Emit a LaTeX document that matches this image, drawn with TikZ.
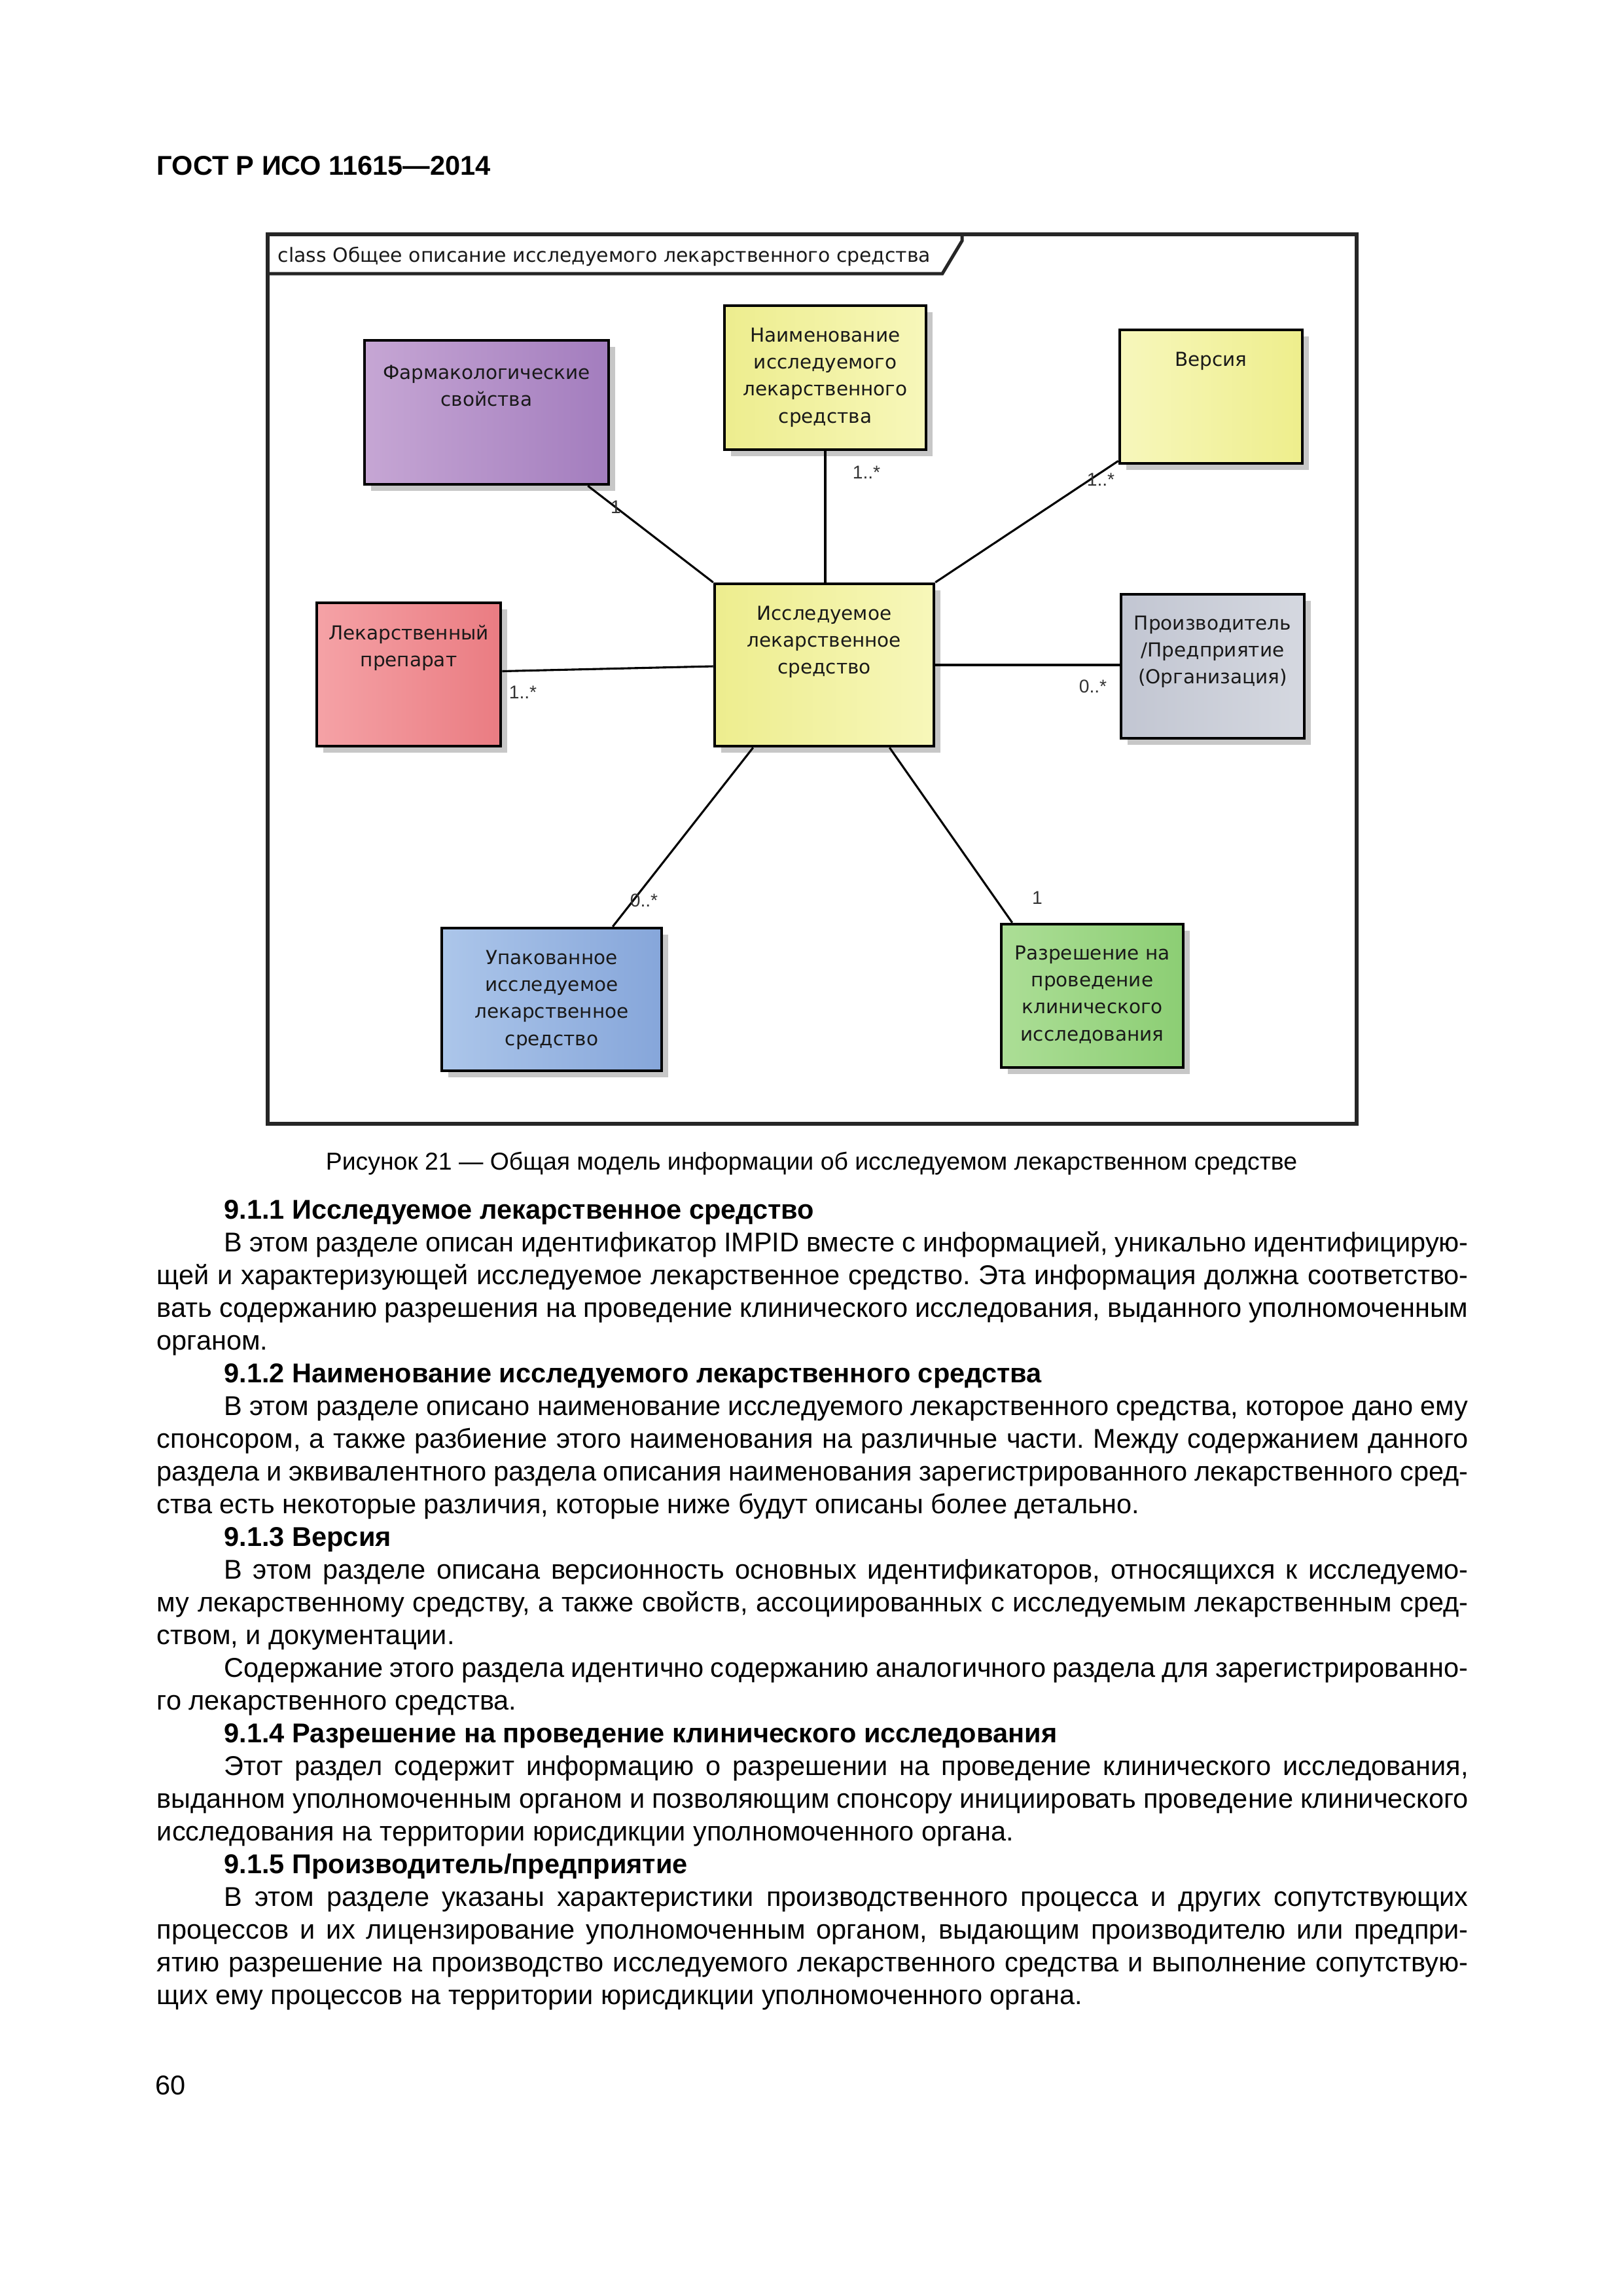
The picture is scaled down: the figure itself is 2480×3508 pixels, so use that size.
\documentclass[tikz,border=0pt]{standalone}
\usepackage{fontspec}
\setmainfont{Liberation Sans}
\newfontfamily\boxfont{DejaVu Sans}
\usetikzlibrary{shadows,fit}
\newdimen\pxu \pxu=0.24093pt
\definecolor{pharmL}{RGB}{198,166,212}
\definecolor{pharmR}{RGB}{163,125,190}
\definecolor{yelL}{RGB}{237,237,142}
\definecolor{yelR}{RGB}{247,247,186}
\definecolor{versL}{RGB}{247,247,188}
\definecolor{versR}{RGB}{238,238,140}
\definecolor{redL}{RGB}{245,162,166}
\definecolor{redR}{RGB}{234,124,130}
\definecolor{greyL}{RGB}{194,198,210}
\definecolor{greyR}{RGB}{213,216,224}
\definecolor{blueL}{RGB}{172,198,234}
\definecolor{blueR}{RGB}{134,166,218}
\definecolor{greenL}{RGB}{172,222,150}
\definecolor{greenR}{RGB}{140,206,116}
\tikzset{
  umlbox/.style={draw=black, line width=1.1pt, rectangle, inner sep=0pt,
    drop shadow={shadow xshift=2.4pt, shadow yshift=-2.4pt, fill=black!22, opacity=1}},
  boxtxt/.style={font=\boxfont\fontsize{7.1pt}{9.9pt}\selectfont, inner sep=0pt, anchor=base, text=black!90},
  mult/.style={font=\fontsize{6.8pt}{8pt}\selectfont, inner sep=0pt, text=black!80},
  conn/.style={draw=black, line width=0.75pt},
}
\begin{document}
\begin{tikzpicture}[x=0.24093pt, y=-0.24093pt]
\useasboundingbox (0,0) rectangle (2480,3508);
\fill[white] (0,0) rectangle (2480,3508);

% header
\node[anchor=base west, font=\bfseries\fontsize{10pt}{12pt}\selectfont, inner sep=0pt] (hdr) at (239,267) {ГОСТ Р ИСО 11615—2014};

% frame
\node[fit={(409,358) (2073,1717)}, draw=black!85, line width=1.4pt, inner sep=0pt] (frame) {};
\draw[black!85, line width=1.2pt] (409,418) -- (1440,418) -- (1470,368) -- (1470,358);
\node[anchor=base west, font=\boxfont\fontsize{7.2pt}{8pt}\selectfont, inner sep=0pt, text=black!90] (title) at (424,400) {class Общее описание исследуемого лекарственного средства};

% boxes
\node[umlbox, left color=pharmL, right color=pharmR, fit={(557,520) (930,740)}] (pharm) {};
\node[umlbox, left color=yelL, right color=yelR, fit={(1107,467) (1415,687)}] (naim) {};
\node[umlbox, left color=versL, right color=versR, fit={(1711,504) (1990,708)}] (vers) {};
\node[umlbox, left color=redL, right color=redR, fit={(484,921) (765,1140)}] (lek) {};
\node[umlbox, left color=yelL, right color=yelR, fit={(1092,892) (1427,1140)}] (center) {};
\node[umlbox, left color=greyL, right color=greyR, fit={(1713,908) (1993,1128)}] (proizv) {};
\node[umlbox, left color=blueL, right color=blueR, fit={(675,1418) (1011,1636)}] (upak) {};
\node[umlbox, left color=greenL, right color=greenR, fit={(1530,1412) (1808,1631)}] (razr) {};

% box texts
\node[boxtxt] (pharmT) at ([yshift=-62\pxu]pharm.north) {\begin{tabular}[t]{@{}c@{}}Фармакологические\\свойства\end{tabular}};
\node[boxtxt] (naimT) at ([yshift=-58\pxu]naim.north) {\begin{tabular}[t]{@{}c@{}}Наименование\\исследуемого\\лекарственного\\средства\end{tabular}};
\node[boxtxt] (versT) at ([yshift=-58\pxu]vers.north) {Версия};
\node[boxtxt] (lekT) at ([yshift=-59\pxu]lek.north) {\begin{tabular}[t]{@{}c@{}}Лекарственный\\препарат\end{tabular}};
\node[boxtxt] (centerT) at ([yshift=-58\pxu]center.north) {\begin{tabular}[t]{@{}c@{}}Исследуемое\\лекарственное\\средство\end{tabular}};
\node[boxtxt] (proizvT) at ([yshift=-57\pxu]proizv.north) {\begin{tabular}[t]{@{}c@{}}Производитель\\/Предприятие\\(Организация)\end{tabular}};
\node[boxtxt] (upakT) at ([yshift=-58\pxu]upak.north) {\begin{tabular}[t]{@{}c@{}}Упакованное\\исследуемое\\лекарственное\\средство\end{tabular}};
\node[boxtxt] (razrT) at ([yshift=-57\pxu]razr.north) {\begin{tabular}[t]{@{}c@{}}Разрешение на\\проведение\\клинического\\исследования\end{tabular}};

% connectors
\draw[conn] ([xshift=-34\pxu]pharm.south east) -- (center.north west);
\draw[conn] (naim.south) -- (naim.south |- center.north);
\draw[conn] ([yshift=6\pxu]vers.south west) -- (center.north east);
\draw[conn] ([yshift=5\pxu]lek.east) -- ([yshift=-2\pxu]center.west);
\draw[conn] (center.east) -- (center.east -| proizv.west);
\draw[conn] ([xshift=61\pxu]center.south west) -- ([xshift=-77\pxu]upak.north east);
\draw[conn] ([xshift=-70\pxu]center.south east) -- ([xshift=19\pxu]razr.north west);

% multiplicities
\node[mult] (m1) at (941,775) {1};
\node[mult] (m2) at (1324,722) {1..*};
\node[mult] (m3) at (1682,733) {1..*};
\node[mult] (m4) at (799,1058) {1..*};
\node[mult] (m5) at (1670,1049) {0..*};
\node[mult] (m6) at (984,1376) {0..*};
\node[mult] (m7) at (1585,1372) {1};

% caption
\node[anchor=base, font=\fontsize{9pt}{11pt}\selectfont, inner sep=0pt] (caption) at (1240,1787) {Рисунок 21 — Общая модель информации об исследуемом лекарственном средстве};

% body
\node[anchor=base west, inner sep=0pt] (body) at (239,1862) {\begin{minipage}[t]{482.8pt}
\fontsize{10pt}{12.05pt}\selectfont
\parindent=24.8pt \parskip=0pt \hyphenpenalty=10000 \tolerance=9999 \frenchspacing
{\bfseries 9.1.1 Исследуемое лекарственное средство\par}
В этом разделе описан идентификатор IMPID вместе с информацией, уникально идентифицирую-\linebreak щей и характеризующей исследуемое лекарственное средство. Эта информация должна соответство-\linebreak вать содержанию разрешения на проведение клинического исследования, выданного уполномоченным\linebreak органом.\par
{\bfseries 9.1.2 Наименование исследуемого лекарственного средства\par}
В этом разделе описано наименование исследуемого лекарственного средства, которое дано ему\linebreak спонсором, а также разбиение этого наименования на различные части. Между содержанием данного\linebreak раздела и эквивалентного раздела описания наименования зарегистрированного лекарственного сред-\linebreak ства есть некоторые различия, которые ниже будут описаны более детально.\par
{\bfseries 9.1.3 Версия\par}
В этом разделе описана версионность основных идентификаторов, относящихся к исследуемо-\linebreak му лекарственному средству, а также свойств, ассоциированных с исследуемым лекарственным сред-\linebreak ством, и документации.\par
Содержание этого раздела идентично содержанию аналогичного раздела для зарегистрированно-\linebreak го лекарственного средства.\par
{\bfseries 9.1.4 Разрешение на проведение клинического исследования\par}
Этот раздел содержит информацию о разрешении на проведение клинического исследования,\linebreak выданном уполномоченным органом и позволяющим спонсору инициировать проведение клинического\linebreak исследования на территории юрисдикции уполномоченного органа.\par
{\bfseries 9.1.5 Производитель/предприятие\par}
В этом разделе указаны характеристики производственного процесса и других сопутствующих\linebreak процессов и их лицензирование уполномоченным органом, выдающим производителю или предпри-\linebreak ятию разрешение на производство исследуемого лекарственного средства и выполнение сопутствую-\linebreak щих ему процессов на территории юрисдикции уполномоченного органа.\par
\end{minipage}};

% page number
\node[anchor=base west, font=\fontsize{10pt}{12pt}\selectfont, inner sep=0pt] (pg) at (237,3200) {60};
\end{tikzpicture}
\end{document}
